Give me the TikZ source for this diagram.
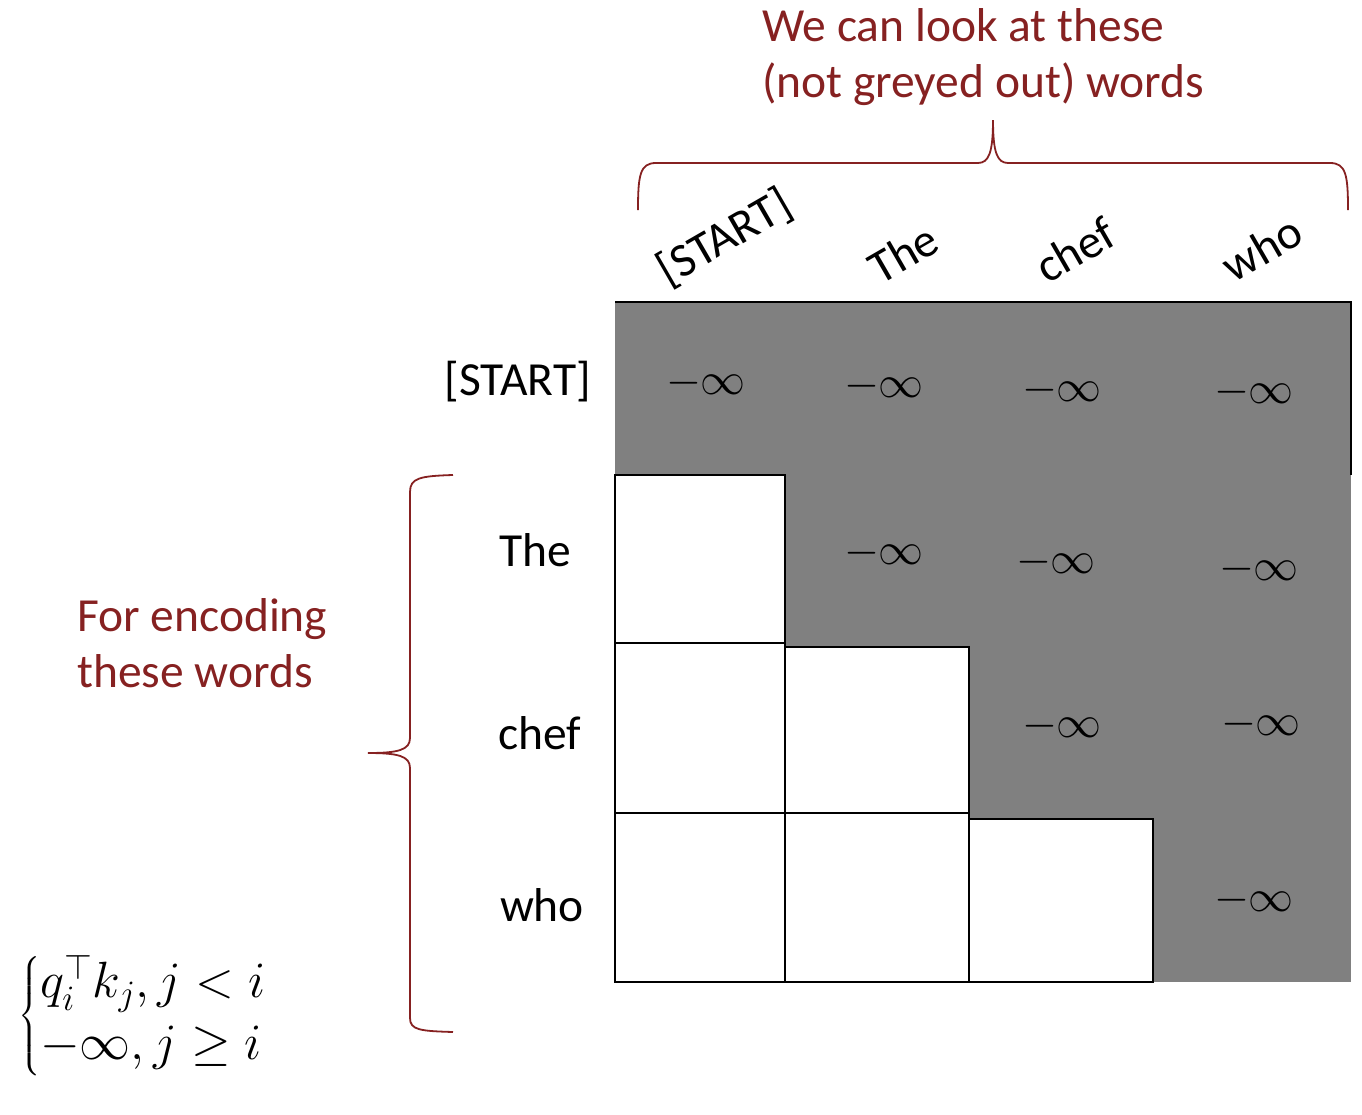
\RequirePackage{fix-cm}
\documentclass[tikz,border=0pt]{standalone}
\usepackage{amsmath}
\usepackage{fontspec}
\setmainfont{Carlito}
\definecolor{darkred}{RGB}{134,33,33}
\definecolor{maskgrey}{RGB}{128,128,128}
\begin{document}
\begin{tikzpicture}[x=1pt,y=-1pt,
  lbl/.style={font=\fontsize{47.5}{56}\selectfont, inner sep=0pt},
  note/.style={lbl, text=darkred, align=left},
  brace/.style={draw=darkred, line width=1.8pt},
  cell/.style={draw=black, fill=white, line width=1.4pt},
  inf/.style={font=\fontsize{45}{45}\selectfont, inner sep=0pt},
  formula/.style={font=\fontsize{51}{58}\selectfont, inner sep=0pt}]
\useasboundingbox (0,0) rectangle (1362,1114);
% grey mask
\fill[maskgrey] (615,302) rectangle (1351,982);
\draw[line width=1.4pt] (615,302) -- (1351,302) -- (1351,475);
% white cells
\draw[cell] (615,475) rectangle (785,643);
\draw[cell] (615,643) rectangle (785,813);
\draw[cell] (785,647) rectangle (969,813);
\draw[cell] (615,813) rectangle (785,982);
\draw[cell] (785,813) rectangle (969,982);
\draw[cell] (969,819) rectangle (1153,982);
% -inf entries
\node[inf] (m11) at (706,383) {$-\infty$};
\node[inf] (m12) at (884,386) {$-\infty$};
\node[inf] (m13) at (1062,390) {$-\infty$};
\node[inf] (m14) at (1254,392) {$-\infty$};
\node[inf] (m22) at (884,553) {$-\infty$};
\node[inf] (m23) at (1056,562) {$-\infty$};
\node[inf] (m24) at (1259,569) {$-\infty$};
\node[inf] (m33) at (1062,726) {$-\infty$};
\node[inf] (m34) at (1261,724) {$-\infty$};
\node[inf] (m44) at (1254,900) {$-\infty$};
% row labels
\node[lbl, anchor=east] (rS) at (591,382) {[START]};
\node[lbl] (rT) at (535,550) {The};
\node[lbl] (rC) at (540,733) {chef};
\node[lbl] (rW) at (542,905) {who};
% column labels
\node[lbl, rotate=30] (cS) at (725,238) {[START]};
\node[lbl, rotate=30] (cT) at (903,253) {The};
\node[lbl, rotate=30] (cC) at (1075,250) {chef};
\node[lbl, rotate=30] (cW) at (1262,248) {who};
% notes
\node[note, anchor=north west] (top) at (762,8) {We can look at these\\(not greyed out) words};
\node[note, anchor=north west] (left) at (77,598) {For encoding\\these words};
% braces
\coordinate (tb1) at (638,210);
\coordinate (tbtip) at (993,120);
\coordinate (tb2) at (1348,210);
\draw[brace] (tb1) .. controls (638,175) and (640,163) .. (656,163) -- (978,163)
  .. controls (989,163) and (993,152) .. (tbtip)
  .. controls (993,152) and (997,163) .. (1008,163) -- (1330,163)
  .. controls (1346,163) and (1348,175) .. (tb2);
\coordinate (lb1) at (453,475);
\coordinate (lbtip) at (368,753);
\coordinate (lb2) at (453,1032);
\draw[brace] (lb1) .. controls (420,476) and (410,478) .. (410,492) -- (410,738)
  .. controls (410,750) and (398,753) .. (lbtip)
  .. controls (398,753) and (410,756) .. (410,768) -- (410,1018)
  .. controls (410,1030) and (420,1031) .. (lb2);
% formula
\node[formula, anchor=west] (eq) at (18,1016) {$\left\{\begin{array}{@{}l@{}} q_i^{\top}k_j, j<i\\[4pt] -\infty, j\geq i\end{array}\right.$};
\end{tikzpicture}
\end{document}
